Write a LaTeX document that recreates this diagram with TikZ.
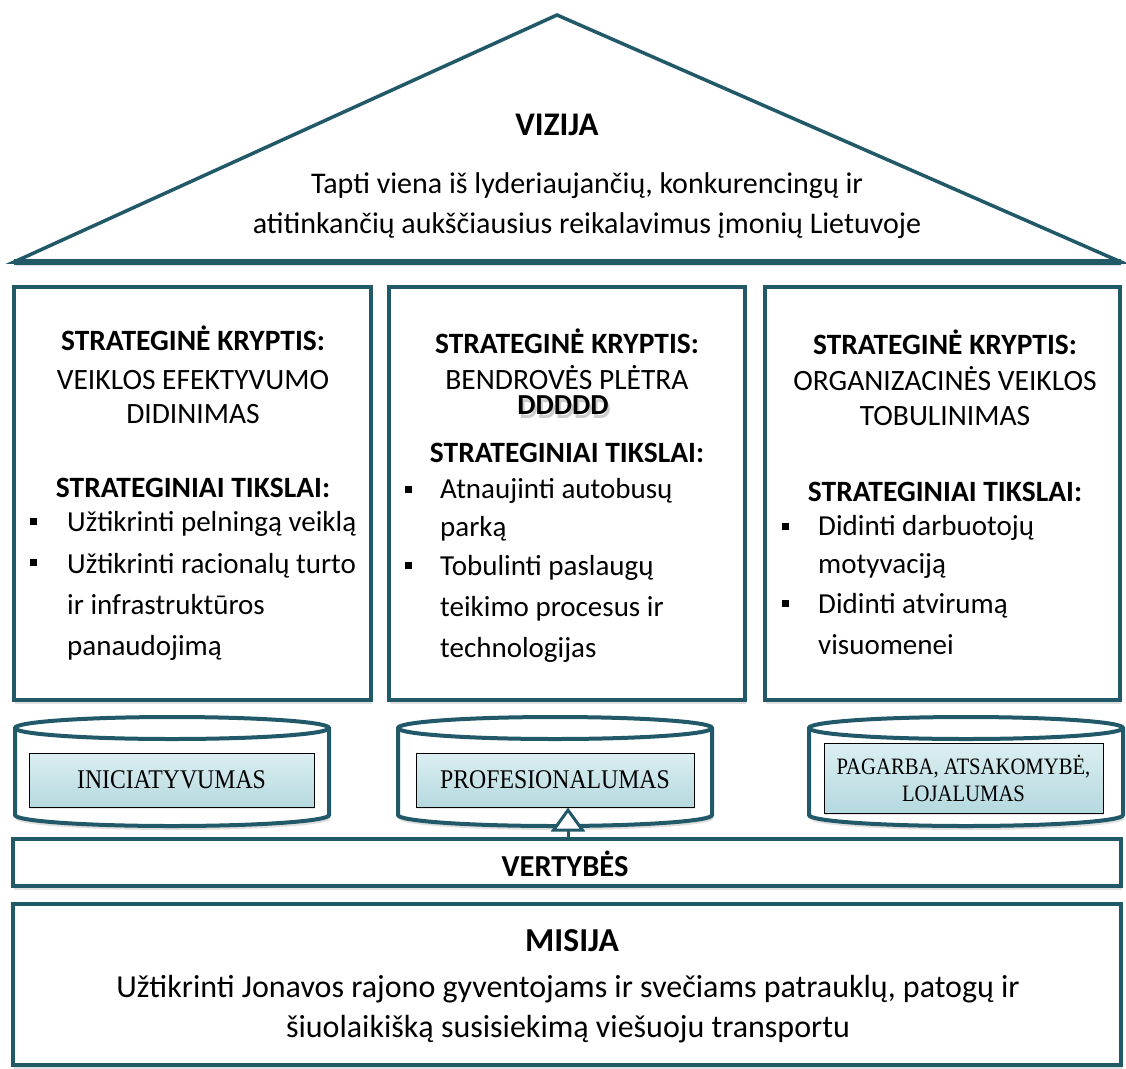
\documentclass[tikz,border=0pt]{standalone}
\usepackage{fontspec}
\setmainfont{Carlito}
\newfontfamily\valfont{Liberation Serif}[FakeStretch=0.88]
\usetikzlibrary{shadows,arrows.meta}
\definecolor{tealdark}{HTML}{215968}
\definecolor{boxtop}{HTML}{DCEFF2}
\definecolor{boxbot}{HTML}{B4D9DF}

\begin{document}
\begin{tikzpicture}[x=1pt,y=-1pt,
  frame/.style={draw=tealdark, line width=4pt, fill=white, outer sep=0pt, inner sep=0pt,
    drop shadow={opacity=0.25, shadow xshift=1pt, shadow yshift=-4pt}},
  valuebox/.style={draw=black, line width=1pt, top color=boxtop, bottom color=boxbot,
    inner sep=0pt, align=center, font=\valfont\fontsize{27}{28}\selectfont,
    drop shadow={opacity=0.2, shadow xshift=1pt, shadow yshift=-2pt}},
  head/.style={anchor=base, align=center, inner sep=0pt, font=\fontsize{29.5}{34}\selectfont},
  headbf/.style={head, font=\bfseries\fontsize{29.5}{34}\selectfont},
  item/.style={anchor=base west, align=left, inner sep=0pt, font=\fontsize{29}{41}\selectfont},
  sq/.style={fill=black, minimum size=7pt, inner sep=0pt}
]
\useasboundingbox (0,0) rectangle (1126,1068);
% #1 name, #2 centre x
\def\barrel#1#2{%
  \draw[frame] (#2-157,728) -- (#2-157,815) arc[start angle=180, end angle=0, x radius=157, y radius=11]
    -- (#2+157,728) arc[start angle=0, end angle=-180, x radius=157, y radius=11] -- cycle;
  \draw[tealdark, line width=4pt] (#2-157,728) arc[start angle=180, end angle=0, x radius=157, y radius=11];
  \coordinate (#1) at (#2,771);}

% roof
\coordinate (rl) at (14,262);
\coordinate (rt) at (557,15);
\coordinate (rr) at (1121,262);
\draw[frame, line width=3.5pt] (rl) -- (rt) -- (rr) -- cycle;
\draw[tealdark, line width=6pt] (rl) -- (rr);
\node[headbf, font=\bfseries\fontsize{33}{36}\selectfont] (vizija) at (557,135) {VIZIJA};
\node[head, font=\fontsize{30}{40}\selectfont] (vizijatxt) at (587,233)
  {Tapti viena iš lyderiaujančių, konkurencingų ir\\atitinkančių aukščiausius reikalavimus įmonių Lietuvoje};

% strategic directions
\node[frame, minimum width=357pt, minimum height=413pt] (sk1) at (192.5,493.5) {};
\node[frame, minimum width=356pt, minimum height=413pt] (sk2) at (567,493.5) {};
\node[frame, minimum width=355pt, minimum height=413pt] (sk3) at (942.5,493.5) {};

\node[headbf] (k1) at (193,350) {STRATEGINĖ KRYPTIS:};
\node[head] (k1txt) at (193,423) {VEIKLOS EFEKTYVUMO\\DIDINIMAS};
\node[headbf] (t1) at (193,497) {STRATEGINIAI TIKSLAI:};
\node[sq] (b11) at (33,521) {};
\node[item] (i11) at (67,531) {Užtikrinti pelningą veiklą};
\node[sq] (b12) at (33,562) {};
\node[item] (i12) at (67,655) {Užtikrinti racionalų turto\\ir infrastruktūros\\panaudojimą};

\node[headbf] (k2) at (567,353) {STRATEGINĖ KRYPTIS:};
\node[head] (k2txt) at (567,389) {BENDROVĖS PLĖTRA};
\node[headbf, font=\bfseries\fontsize{29}{34}\selectfont] (ddd) at (563,414)
  {\rlap{\raisebox{-4pt}{\hspace{2pt}\textcolor{gray!40}{DDDDD}}}DDDDD};
\node[headbf] (t2) at (567,462) {STRATEGINIAI TIKSLAI:};
\node[sq] (b21) at (408,489) {};
\node[item, font=\fontsize{29}{38}\selectfont] (i21) at (440,536) {Atnaujinti autobusų\\parką};
\node[sq] (b22) at (408,565) {};
\node[item] (i22) at (440,657) {Tobulinti paslaugų\\teikimo procesus ir\\technologijas};

\node[headbf] (k3) at (945,354) {STRATEGINĖ KRYPTIS:};
\node[head, font=\fontsize{29.5}{35}\selectfont] (k3txt) at (945,425) {ORGANIZACINĖS VEIKLOS\\TOBULINIMAS};
\node[headbf] (t3) at (945,501) {STRATEGINIAI TIKSLAI:};
\node[sq] (b31) at (785,526) {};
\node[item, font=\fontsize{29}{38}\selectfont] (i31) at (818,573) {Didinti darbuotojų\\motyvaciją};
\node[sq] (b32) at (785,603) {};
\node[item] (i32) at (818,654) {Didinti atvirumą\\visuomenei};

% values
\barrel{c1}{172}
\barrel{c2}{555}
\barrel{c3}{966}
\node[valuebox, minimum width=285pt, minimum height=54pt] (v1) at (171.5,780) {INICIATYVUMAS};
\node[valuebox, minimum width=278pt, minimum height=54pt] (v2) at (555,780) {PROFESIONALUMAS};
\node[valuebox, minimum width=279pt, minimum height=70pt, font=\valfont\fontsize{23.5}{27}\selectfont] (v3) at (963.5,778)
  {PAGARBA, ATSAKOMYBĖ,\\LOJALUMAS};

\node[frame, minimum width=1108pt, minimum height=47pt] (vert) at (567,862.5) {};
\node[headbf, font=\bfseries\fontsize{30.5}{34}\selectfont] (verttxt) at (565,876) {VERTYBĖS};
\draw[tealdark, line width=3pt, -{Triangle[fill=white, length=24pt, width=34pt]}]
  (vert.north -| 568,0) -- (v2.south -| 568,0);

% mission
\node[frame, minimum width=1108pt, minimum height=161pt] (misija) at (567,984.5) {};
\node[headbf, font=\bfseries\fontsize{33.5}{36}\selectfont] (misijahd) at (572,951) {MISIJA};
\node[head, font=\fontsize{32}{40}\selectfont] (misijatxt) at (568,1037)
  {Užtikrinti Jonavos rajono gyventojams ir svečiams patrauklų, patogų ir\\šiuolaikišką susisiekimą viešuoju transportu};
\end{tikzpicture}
\end{document}
